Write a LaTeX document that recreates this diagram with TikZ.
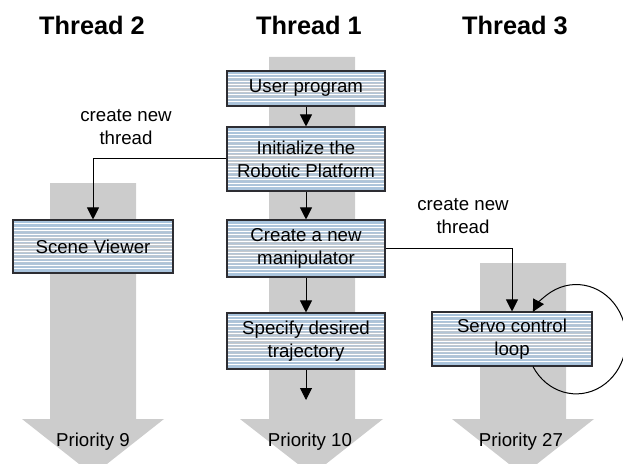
\documentclass[tikz,border=0pt]{standalone}
\usepackage{fontspec}
\setmainfont{Liberation Sans}
\usetikzlibrary{arrows.meta,calc}

\definecolor{shaftgray}{RGB}{204,204,204}
\definecolor{stripeblue}{RGB}{168,196,222}
\definecolor{stripegray}{RGB}{200,201,203}
\definecolor{boxedge}{RGB}{45,45,50}

\tikzset{
  x=0.75pt, y=-0.75pt,
  shaft/.style={fill=shaftgray, draw=none},
  title/.style={font=\fontsize{19}{22}\selectfont\bfseries, anchor=base},
  note/.style={font=\fontsize{14}{17.5}\selectfont, align=center, inner sep=0pt},
  % striped task box: blue towards the edges, grey and white in the middle
  task/.style={draw=boxedge, line width=0.8pt, align=center, inner sep=0pt,
    font=\fontsize{14}{17}\selectfont,
    top color=stripeblue, bottom color=stripeblue, middle color=stripegray,
    path picture={
      \foreach \i in {0,...,40}{
        \fill[white] ([yshift=\i*2.6pt+0.2pt]path picture bounding box.south west)
          rectangle ([yshift=\i*2.6pt+0.9pt]path picture bounding box.south east);
        \fill[stripeblue, opacity=0.55] ([yshift=\i*2.6pt+1.5pt]path picture bounding box.south west)
          rectangle ([yshift=\i*2.6pt+2.2pt]path picture bounding box.south east);
      }
    }},
  arr/.style={draw=black, line width=0.75pt, -{Triangle[width=9pt,length=9pt]}}
}

\begin{document}
\begin{tikzpicture}
\useasboundingbox (0,0) rectangle (623,463);

% thread priority arrows
\fill[shaft] (50,183) -- (136,183) -- (136,419) -- (164,419) -- (93,475)
  -- (22,419) -- (50,419) -- cycle;
\fill[shaft] (269,57) -- (355,57) -- (355,419) -- (383,419) -- (312,475)
  -- (240,419) -- (269,419) -- cycle;
\fill[shaft] (480,263) -- (566,263) -- (566,419) -- (594,419) -- (523,475)
  -- (452,419) -- (480,419) -- cycle;

% column titles
\node[title] (t2) at (92,35) {Thread 2};
\node[title] (t1) at (309,35) {Thread 1};
\node[title] (t3) at (515,35) {Thread 3};

% priorities
\node[note, anchor=base] (p9) at (93,446) {Priority 9};
\node[note, anchor=base] (p10) at (310,446) {Priority 10};
\node[note, anchor=base] (p27) at (521,446) {Priority 27};

% tasks
\node[task, minimum width=118.5pt, minimum height=26.25pt] (user) at (306,88.5) {User program};
\node[task, minimum width=118.5pt, minimum height=48pt] (init) at (306,159) {Initialize the\\Robotic Platform};
\node[task, minimum width=118.5pt, minimum height=42.75pt] (create) at (306,248.5) {Create a new\\manipulator};
\node[task, minimum width=118.5pt, minimum height=42pt] (spec) at (306,341) {Specify desired\\trajectory};
\node[task, minimum width=120pt, minimum height=39.75pt] (scene) at (93,246.5) {Scene Viewer};
\node[task, minimum width=120pt, minimum height=40.5pt] (servo) at (512,339) {Servo control\\loop};

% labels on the thread-creation links
\node[note] (lab1) at (126,127) {create new\\thread};
\node[note] (lab2) at (463,216) {create new\\thread};

\coordinate (t1end) at (306,400);

% flow of thread 1
\draw[arr] (user) -- (init);
\draw[arr] (init) -- (create);
\draw[arr] (create) -- (spec);
\draw[arr] (spec) -- (t1end);

% spawned threads
\draw[arr] (init.west) -| (scene.north);
\draw[arr] (create.east) -| (servo.north);

% servo loop
\coordinate (loopstart) at ($(servo.south west)!0.63!(servo.south east)$);
\draw[arr] (loopstart) arc[start angle=-150, end angle=150, x radius=37.5pt, y radius=41pt];
\end{tikzpicture}
\end{document}
